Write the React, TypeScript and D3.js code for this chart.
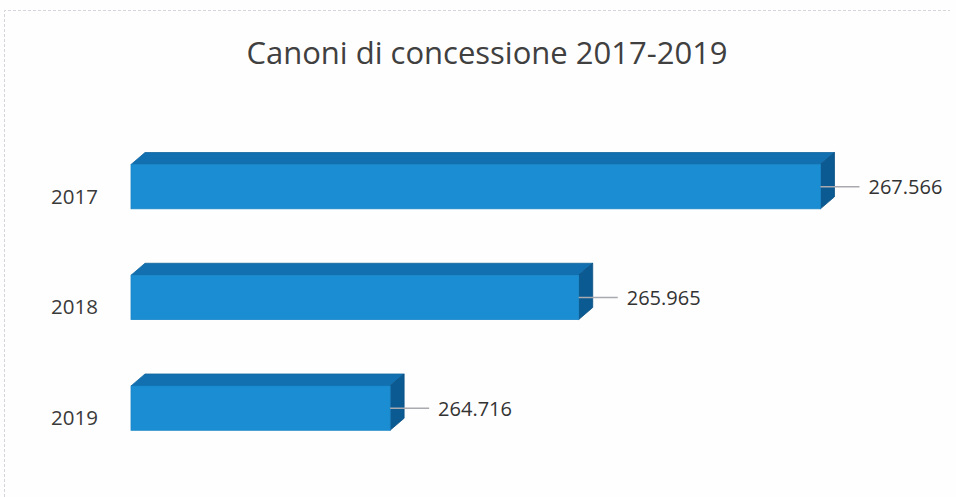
import React from "react";
import * as d3 from "d3";

const title = "Canoni di concessione 2017-2019";
const categories = ["2017", "2018", "2019"];
const values = [267566, 265965, 264716];
const axisDomain = [263000, 268000];

const W = 956;
const H = 497;

const itFormat = d3.formatLocale({
  decimal: ",",
  thousands: ".",
  grouping: [3],
  currency: ["€", ""],
}).format(",d");

export default function App() {
  const x = d3.scaleLinear().domain(axisDomain).range([131, 886]);
  const y = d3
    .scaleBand<string>()
    .domain(categories)
    .range([131.3, 463.5])
    .paddingInner(0.6)
    .paddingOuter(0.3);
  const dx = 14;
  const dy = 12;
  const bw = y.bandwidth();
  const x0 = x(axisDomain[0]);

  return (
    <svg
      width={W}
      height={H}
      style={{ position: "absolute", left: 0, top: 0, background: "#fff" }}
      fontFamily="'Open Sans', sans-serif"
    >
      <rect x={0} y={0} width={W} height={H} fill="#fefefe" />
      <path
        d={`M4.5,${H} L4.5,10.5 L950,10.5`}
        fill="none"
        stroke="#d4d4dc"
        strokeWidth={1}
        strokeDasharray="3 2"
      />
      <text
        x={487}
        y={64}
        textAnchor="middle"
        fontSize={31}
        fill="#404040"
      >
        {title}
      </text>
      {categories.map((c, i) => {
        const yt = y(c)!;
        const xe = x(values[i]);
        const yc = yt + bw / 2;
        return (
          <g key={c}>
            <path
              d={`M${x0},${yt} L${x0 + dx},${yt - dy} L${xe + dx},${yt - dy} L${xe},${yt} Z`}
              fill="#1270b0"
              stroke="#0f64a0"
              strokeWidth={0.8}
            />
            <path
              d={`M${xe},${yt} L${xe + dx},${yt - dy} L${xe + dx},${yt + bw - dy} L${xe},${yt + bw} Z`}
              fill="#0b5a92"
              stroke="#0a4f82"
              strokeWidth={0.8}
            />
            <rect
              x={x0}
              y={yt}
              width={xe - x0}
              height={bw}
              fill="#1b8dd2"
              stroke="#1a86c8"
              strokeWidth={0.8}
            />
            <line
              x1={xe}
              x2={xe + 39}
              y1={yc}
              y2={yc}
              stroke="#a9a9b0"
              strokeWidth={1.5}
            />
            <text x={xe + 48} y={yc + 7.5} fontSize={20} fill="#333">
              {itFormat(values[i])}
            </text>
            <text
              x={98}
              y={yc + 17}
              textAnchor="end"
              fontSize={20.5}
              fill="#3a3a3a"
            >
              {c}
            </text>
          </g>
        );
      })}
    </svg>
  );
}
